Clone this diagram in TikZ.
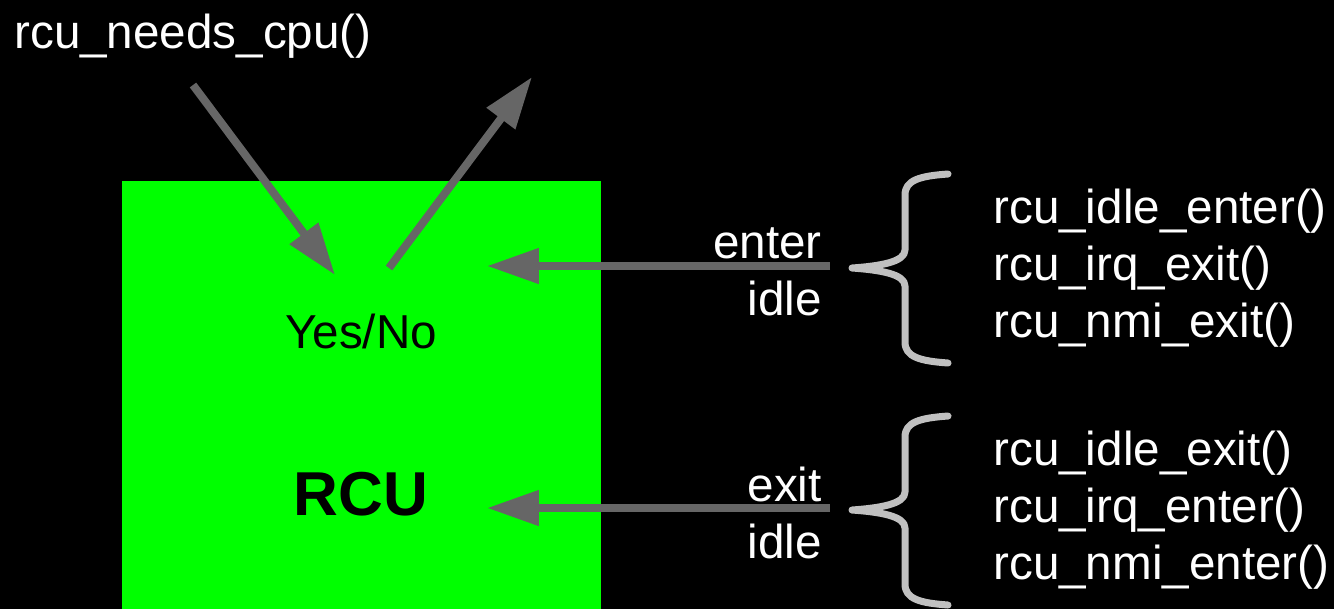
\documentclass[tikz,border=0pt]{standalone}
\usepackage{fontspec}
\setmainfont{Liberation Sans}
\usetikzlibrary{arrows.meta, positioning, calc}
\definecolor{rcugreen}{RGB}{0,255,0}
\definecolor{arrgray}{RGB}{102,102,102}
\definecolor{bracegray}{RGB}{192,192,192}

\begin{document}
\begin{tikzpicture}[
    x=0.02cm, y=-0.02cm,
    txt/.style={text=white, font=\fontsize{27.1}{32.4}\selectfont, inner sep=0pt},
    box/.style={rectangle, fill=rcugreen, inner sep=0pt,
                minimum width=9.58cm, minimum height=8.56cm},
    arr/.style={-{Triangle[length=1.04cm, width=0.68cm]}, line width=0.16cm, arrgray},
    brace/.style={draw=bracegray, line width=0.14cm, line cap=round, line join=round},
]
    % Background
    \fill[black] (0,0) rectangle (1334,609);
    \useasboundingbox (0,0) rectangle (1334,609);

    % RCU box
    \node[box] (rcu) at (361.5,395) {};
    \node[txt, text=black, anchor=base] (yesno) at (361,348) {Yes/No};
    \node[txt, text=black, anchor=base, font=\fontsize{35.3}{40}\selectfont\bfseries] (rcuname) at (361,515) {RCU};

    % Query
    \node[txt, anchor=base west] (needs) at (14,48) {rcu\_needs\_cpu()};
    \coordinate (qtail) at (193,85);
    \coordinate (qtip) at (335,275);
    \coordinate (atail) at (389,268);
    \coordinate (atip) at (532,77);
    \draw[arr] (qtail) -- (qtip);
    \draw[arr] (atail) -- (atip);

    % Enter idle
    \node[txt, anchor=base east, align=right] (enteridle) at (822,315) {enter\\idle};
    \node[txt, anchor=base west, align=left] (enterfns) at (993,337)
        {rcu\_idle\_enter()\\rcu\_irq\_exit()\\rcu\_nmi\_exit()};
    \draw[brace, shift={(0,174)}] (948,0) .. controls (920,2) and (905,6) .. (905,21) -- (905,76)
        .. controls (905,88) and (880,92) .. (852,94) .. controls (880,96) and (905,100) .. (905,112)
        -- (905,168) .. controls (905,183) and (920,187) .. (948,189);
    \coordinate (enterfrom) at (830,266);
    \coordinate (enterto) at (487,266);
    \draw[arr] (enterfrom) -- (enterto);

    % Exit idle
    \node[txt, anchor=base east, align=right] (exitidle) at (822,558) {exit\\idle};
    \node[txt, anchor=base west, align=left] (exitfns) at (993,579)
        {rcu\_idle\_exit()\\rcu\_irq\_enter()\\rcu\_nmi\_enter()};
    \draw[brace, shift={(0,416)}] (948,0) .. controls (920,2) and (905,6) .. (905,21) -- (905,76)
        .. controls (905,88) and (880,92) .. (852,94) .. controls (880,96) and (905,100) .. (905,112)
        -- (905,168) .. controls (905,183) and (920,187) .. (948,189);
    \coordinate (exitfrom) at (830,508);
    \coordinate (exitto) at (487,508);
    \draw[arr] (exitfrom) -- (exitto);
\end{tikzpicture}
\end{document}
